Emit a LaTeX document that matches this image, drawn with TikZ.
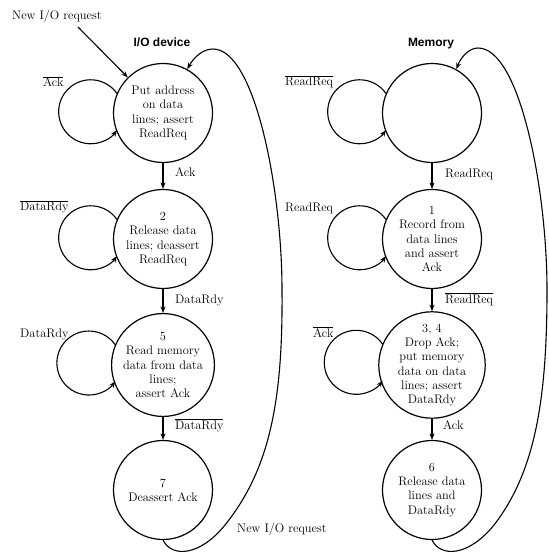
\documentclass[tikz,border=0pt]{standalone}
\usepackage{fontspec}
\newfontfamily\titlefont{Liberation Sans}
\usetikzlibrary{arrows.meta}
\newcommand{\ovl}[1]{$\overline{\mbox{#1}}$}
\begin{document}
\begin{tikzpicture}[x=1pt,y=-1pt,
  txt/.style={font=\fontsize{12.4}{14.2}\selectfont},
  state/.style={circle,draw,line width=1.2pt,minimum size=99pt,inner sep=0pt,align=center,txt},
  lbl/.style={anchor=base west,inner sep=0pt,txt},
  ttl/.style={anchor=base,inner sep=0pt,font=\titlefont\bfseries\fontsize{12}{14}\selectfont},
  arr/.style={line width=1.1pt,-{Stealth[length=6.5pt,width=5pt]}},
  selfloop/.style={arr}
]
\useasboundingbox (0,0) rectangle (548,553);

% titles
\node[ttl] (t1) at (162,47) {I/O device};
\node[ttl] (t2) at (431,47) {Memory};

% I/O device states
\node[state] (a1) at (163,113) {Put address\\on data\\lines; assert\\ReadReq};
\node[state] (a2) at (163,239) {2\\Release data\\lines; deassert\\ReadReq};
\node[state] (a5) at (163,365) {5\\Read memory\\data from data\\lines;\\assert Ack};
\node[state] (a7) at (163,490) {7\\Deassert Ack};

% Memory states
\node[state] (m0) at (432,113) {};
\node[state] (m1) at (432,239) {1\\Record from\\data lines\\and assert\\Ack};
\node[state] (m3) at (432,365) {3, 4\\Drop Ack;\\put memory\\data on data\\lines; assert\\DataRdy};
\node[state] (m6) at (432,490) {6\\Release data\\lines and\\DataRdy};

% vertical transitions
\draw[arr] (a1) -- (a2);
\draw[arr] (a2) -- (a5);
\draw[arr] (a5) -- (a7);
\draw[arr] (m0) -- (m1);
\draw[arr] (m1) -- (m3);
\draw[arr] (m3) -- (m6);

\node[lbl] (la1) at (175,177) {Ack};
\node[lbl] (la2) at (175,303) {DataRdy};
\node[lbl] (la3) at (175,429) {\ovl{DataRdy}};
\node[lbl] (lm1) at (445,178) {ReadReq};
\node[lbl] (lm2) at (445,303) {\ovl{ReadReq}};
\node[lbl] (lm3) at (443,429) {Ack};

% self loops
\foreach \n in {a1,a2,a5,m0,m1,m3}{
  \draw[selfloop] (\n.157) arc[start angle=35,end angle=325,radius=32pt];
}
\node[lbl] (sa1) at (43,87) {\ovl{Ack}};
\node[lbl] (sa2) at (20,211) {\ovl{DataRdy}};
\node[lbl] (sa5) at (20,337) {DataRdy};
\node[lbl] (sm0) at (285,86) {\ovl{ReadReq}};
\node[lbl] (sm1) at (285,211.5) {ReadReq};
\node[lbl] (sm3) at (313,337) {\ovl{Ack}};

% new request at top
\node[lbl] (newtop) at (12,19.5) {New I/O request};
\coordinate (nstart) at (78,27);
\draw[arr] (nstart) -- (a1);

% return curves
\draw[arr] (a7.-90) .. controls (172,558) and (200,556) .. (225,525)
  .. controls (270,469) and (283,400) .. (282,290)
  .. controls (282,190) and (255,49) .. (213,49)
  .. controls (203,49) and (194,57) .. (a1.61);
\draw[arr] (m6.-90) .. controls (441,558) and (469,556) .. (494,525)
  .. controls (535,472) and (547,400) .. (547,290)
  .. controls (547,190) and (520,48) .. (478,48)
  .. controls (469,48) and (461,57) .. (m0.61);

\node[lbl] (newbot) at (237,532) {New I/O request};
\end{tikzpicture}
\end{document}
